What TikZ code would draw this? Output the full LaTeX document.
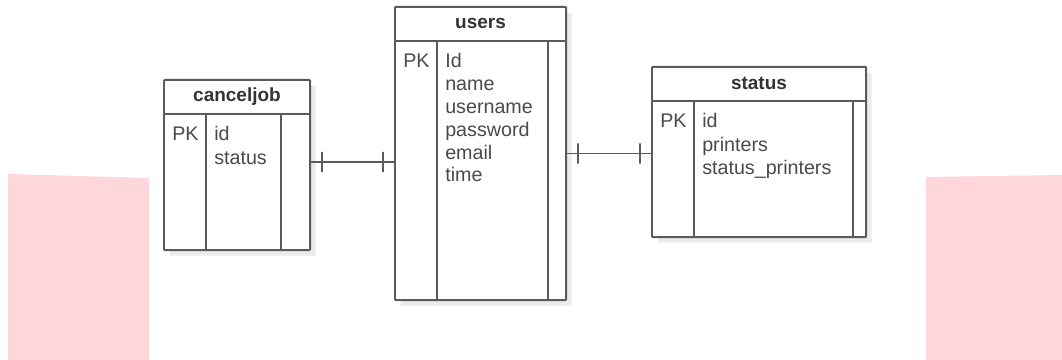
\documentclass[tikz,border=0pt]{standalone}
\usepackage{fontspec}
\setmainfont{Liberation Sans}
\usetikzlibrary{calc,positioning,shadows}
\definecolor{linegray}{HTML}{5A5A5A}
\definecolor{textgray}{HTML}{4A4A4A}
\definecolor{pinkbg}{HTML}{FFD6DA}

\begin{document}
\begin{tikzpicture}[x=0.025cm,y=-0.025cm,
    tbl/.style={draw=linegray,fill=white,line width=1.4pt,inner sep=0pt,rounded corners=0.5pt,
      drop shadow={shadow xshift=4pt,shadow yshift=-4pt,fill=black!8,opacity=1}},
    title/.style={font=\fontsize{13.5}{16}\selectfont\bfseries,text=black!80},
    field/.style={font=\fontsize{14}{16}\selectfont,text=textgray,anchor=base west,inner sep=0pt},
    rel/.style={draw=linegray,line width=1.4pt},
    tickmark/.style={draw=linegray,line width=1.4pt,minimum width=0pt,minimum height=0.5cm,inner sep=0pt}]

  \useasboundingbox (0,0) rectangle (1062,360);

  % pink blocks behind
  \fill[pinkbg] (8,174) -- (149,178) -- (149,360) -- (8,360) -- cycle;
  \fill[pinkbg] (926,177) -- (1062,175) -- (1062,360) -- (926,360) -- cycle;

  % tables
  \node[tbl,minimum width=3.65cm,minimum height=4.25cm] (canceljob) at (237,165) {};
  \node[tbl,minimum width=4.275cm,minimum height=7.325cm] (users) at (480.5,153.5) {};
  \node[tbl,minimum width=5.35cm,minimum height=4.25cm] (status) at (759,152) {};

  \foreach \t/\g in {canceljob/30,users/19,status/14} {
    \draw[rel] ($(\t.north west)+(0,35)$) -- ($(\t.north east)+(0,35)$);
    \draw[rel] ($(\t.north west)+(43,35)$) -- ($(\t.south west)+(43,0)$);
    \draw[rel] ($(\t.north east)+(-\g,35)$) -- ($(\t.south east)+(-\g,0)$);
    \node[title] at ($(\t.north)+(0,17.5)$) {\t};
    \node[field] at ($(\t.north west)+(9,62)$) {PK};
  }

  \foreach \f [count=\i from 0] in {id,status}
    \node[field] at ($(canceljob.north west)+(51,62+24*\i)$) {\f};
  \foreach \f [count=\i from 0] in {Id,name,username,password,email,time}
    \node[field] at ($(users.north west)+(51,62+22.8*\i)$) {\f};
  \foreach \f [count=\i from 0] in {id,printers,status\_printers}
    \node[field] at ($(status.north west)+(51,62+23.5*\i)$) {\f};

  % relations
  \coordinate (r1) at (0,162);
  \coordinate (r2) at (0,153.5);
  \draw[rel] (canceljob.east |- r1) -- (users.west |- r1)
    node[tickmark,pos=0.13] {} node[tickmark,pos=0.87] {};
  \draw[rel] (users.east |- r2) -- (status.west |- r2)
    node[tickmark,pos=0.13] {} node[tickmark,pos=0.87] {};

\end{tikzpicture}
\end{document}
